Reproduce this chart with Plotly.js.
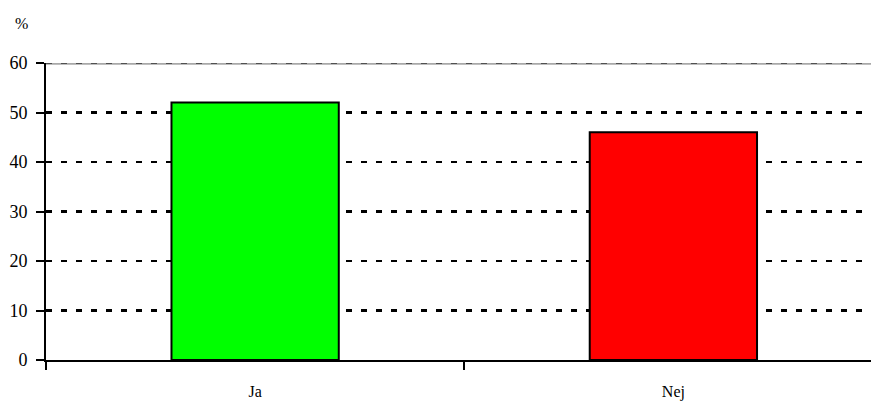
<!DOCTYPE html>
<html><head><meta charset="utf-8">
<script src="https://cdn.plot.ly/plotly-3.0.1.min.js"></script>
<style>body{margin:0;background:#fff}#chart{width:871px;height:403px}</style>
</head><body><div id="chart"></div>
<script>
const categories = ["Ja", "Nej"];
const values = [52, 46];
const barColors = ["#00ff00", "#ff0000"];
const yTicks = [0, 10, 20, 30, 40, 50, 60];
const unitLabel = "%";

const serif = "'Liberation Serif', 'Times New Roman', serif";

Plotly.newPlot("chart", [{
  type: "bar",
  x: categories,
  y: values,
  width: 0.4,
  marker: {color: barColors, line: {color: "#000", width: 2}},
  hoverinfo: "skip"
}], {
  width: 871, height: 403,
  margin: {l: 46, r: 0, t: 63, b: 43},
  paper_bgcolor: "#fff", plot_bgcolor: "#fff",
  font: {family: serif, size: 16, color: "#000"},
  showlegend: false,
  xaxis: {
    type: "category",
    range: [-0.5, 1.4725],
    tickson: "boundaries",
    ticks: "outside", ticklen: 8, tickwidth: 2, tickcolor: "#000",
    showline: true, linecolor: "#000", linewidth: 2,
    showgrid: false, zeroline: false,
    ticklabelstandoff: 16,
    tickfont: {family: serif, size: 16, color: "#000"}
  },
  yaxis: {
    range: [0, 60],
    tickvals: yTicks,
    ticks: "outside", ticklen: 8, tickwidth: 2, tickcolor: "#000",
    showline: true, linecolor: "#000", linewidth: 2,
    showgrid: true, gridcolor: "#000", gridwidth: 2.5, griddash: "6px,9px",
    zeroline: false,
    ticklabelstandoff: 5,
    tickfont: {family: serif, size: 18, color: "#000"}
  },
  shapes: [{
    type: "line", xref: "paper", x0: 0, x1: 1, yref: "y", y0: 60, y1: 60,
    line: {color: "#a8a8a8", width: 3.5}, layer: "below"
  }, {
    type: "line", xref: "paper", x0: 0, x1: 1, yref: "y", y0: 60, y1: 60,
    line: {color: "#333", width: 1.5, dash: "6px,9px"}, layer: "above"
  }],
  annotations: [{
    text: unitLabel, xref: "paper", yref: "paper", x: 0, y: 1, xshift: -25, yshift: 40,
    xanchor: "center", yanchor: "middle", showarrow: false,
    font: {family: serif, size: 16, color: "#000"}
  }]
}, {displayModeBar: false, staticPlot: true});
</script></body></html>
